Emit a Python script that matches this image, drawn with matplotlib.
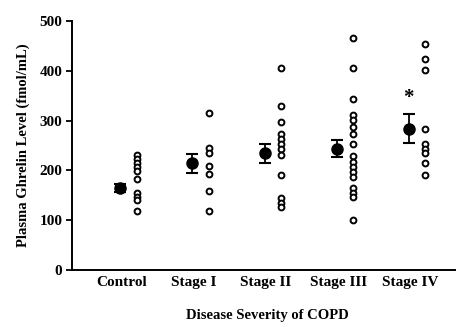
import matplotlib
matplotlib.use("Agg")
import matplotlib.pyplot as plt
import numpy as np

categories = ["Control", "Stage I", "Stage II", "Stage III", "Stage IV"]
means = [165, 214, 234, 244, 284]
sems = [8, 19, 19, 18, 29]
control_vals = [230, 222, 214, 206, 199, 182, 155, 146, 140, 118]
stage1_vals = [315, 245, 235, 208, 192, 159, 119]
stage2_vals = [405, 329, 298, 274, 264, 254, 244, 231, 191, 144, 135, 127]
stage3_vals = [466, 406, 343, 311, 302, 288, 274, 253, 228, 217, 207, 197, 187, 164, 154, 146, 100]
stage4_vals = [453, 423, 402, 283, 254, 244, 234, 214, 191]
individual = [control_vals, stage1_vals, stage2_vals, stage3_vals, stage4_vals]
star_value = 346
yticks = [0, 100, 200, 300, 400, 500]

plt.rcParams['font.family'] = ['Liberation Serif', 'DejaVu Serif']
plt.rcParams['font.weight'] = 'bold'

fig = plt.figure(figsize=(4.59, 3.27), dpi=100)
ax = fig.add_axes([0.157, 0.174, 0.834, 0.762])

x = np.arange(len(categories))
for i, vals in enumerate(individual):
    ax.plot([x[i] + 0.21] * len(vals), vals, linestyle='none', marker='o',
            markersize=4.2, markerfacecolor='white', markeredgecolor='black',
            markeredgewidth=1.4, clip_on=False)

ax.errorbar(x - 0.02, means, yerr=sems, fmt='o', color='black', markersize=8,
            ecolor='black', elinewidth=1.3, capsize=4.5, capthick=1.5)

ax.text(x[4] - 0.02, star_value, '*', ha='center', va='center', fontsize=15,
        fontweight='bold')

ax.set_xlim(-0.69, 4.62)
ax.set_ylim(0, 500)
ax.set_yticks(yticks)
ax.set_yticklabels([str(v) for v in yticks], fontsize=11, fontweight='bold')
ax.set_xticks(x)
ax.set_xticklabels(categories, fontsize=11, fontweight='bold')
ax.tick_params(axis='x', length=0, pad=4)
ax.tick_params(axis='y', length=4, width=1.3, direction='out', pad=3)
for s in ['top', 'right']:
    ax.spines[s].set_visible(False)
for s in ['left', 'bottom']:
    ax.spines[s].set_linewidth(1.4)

ax.set_ylabel('Plasma Ghrelin Level (fmol/mL)', fontsize=10.5, fontweight='bold', labelpad=7)
ax.set_xlabel('Disease Severity of COPD', fontsize=10.5, fontweight='bold')
ax.xaxis.set_label_coords(0.51, -0.155)

fig.savefig('out.png', dpi=100)
